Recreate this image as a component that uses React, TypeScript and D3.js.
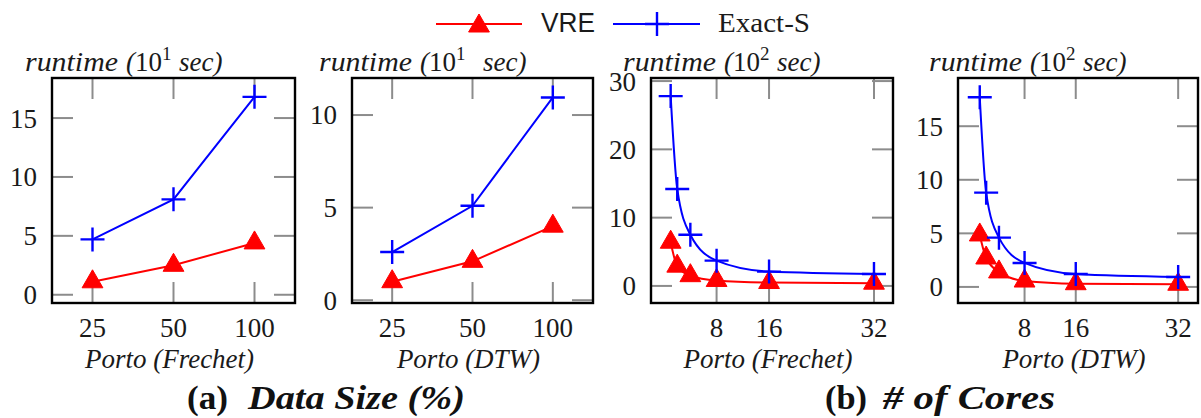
import React from "react";
import * as d3 from "d3";

// ---- data ----
const sizeCats = ["25", "50", "100"];
const frechetSizeVRE = [1.1, 2.5, 4.4];
const frechetSizeExact = [4.7, 8.1, 16.8];
const dtwSizeVRE = [1.0, 2.1, 4.0];
const dtwSizeExact = [2.6, 5.1, 10.95];

const cores = [1, 2, 4, 8, 16, 32];
const coreTicks = [8, 16, 32];
const frechetCoresVRE = [6.4, 2.9, 1.5, 0.8, 0.5, 0.4];
const frechetCoresExact = [27.8, 14.2, 7.5, 3.7, 2.1, 1.75];
const dtwCoresVRE = [4.85, 2.7, 1.4, 0.55, 0.3, 0.25];
const dtwCoresExact = [17.7, 8.8, 4.6, 2.24, 1.2, 0.93];

const seriesNames = ["VRE", "Exact-S"];
const RED = "#ff0000";
const BLUE = "#0000ff";
const SERIF = "'Liberation Serif', 'DejaVu Serif', serif";
const SANS = "'Liberation Sans', 'DejaVu Sans', sans-serif";

const TOP = 78;
const BOTTOM = 303;
const TICK = 21;

type Panel = {
  kind: "cat" | "lin";
  x0: number;
  x1: number;
  xDomain?: [number, number];
  yDomain: [number, number];
  yTicks: number[];
  vre: number[];
  exact: number[];
  exp: string;
  expGap: boolean;
  xlabel: string;
  ylabelX: number;
};

const panels: Panel[] = [
  { kind: "cat", x0: 52, x1: 295, yDomain: [-0.7, 18.4], yTicks: [0, 5, 10, 15], vre: frechetSizeVRE, exact: frechetSizeExact, exp: "1", expGap: false, xlabel: "Porto (Frechet)", ylabelX: 25 },
  { kind: "cat", x0: 352, x1: 593, yDomain: [-0.15, 12], yTicks: [0, 5, 10], vre: dtwSizeVRE, exact: dtwSizeExact, exp: "1", expGap: true, xlabel: "Porto (DTW)", ylabelX: 319 },
  { kind: "lin", x0: 651, x1: 893, xDomain: [-2.0, 34.9], yDomain: [-2.5, 30.45], yTicks: [0, 10, 20, 30], vre: frechetCoresVRE, exact: frechetCoresExact, exp: "2", expGap: false, xlabel: "Porto (Frechet)", ylabelX: 623 },
  { kind: "lin", x0: 958, x1: 1198, xDomain: [-2.4, 35.1], yDomain: [-1.5, 19.5], yTicks: [0, 5, 10, 15], vre: dtwCoresVRE, exact: dtwCoresExact, exp: "2", expGap: false, xlabel: "Porto (DTW)", ylabelX: 929 },
];

const triPath = (r: number) => {
  const h = r * Math.cos(Math.PI / 6);
  return `M0,${-r}L${h},${r / 2}L${-h},${r / 2}Z`;
};

function Tri({ x, y, r = 12 }: { x: number; y: number; r?: number }) {
  return <path d={triPath(r)} transform={`translate(${x},${y})`} fill={RED} stroke={RED} strokeWidth={1} />;
}
function Plus({ x, y, s = 12 }: { x: number; y: number; s?: number }) {
  return (
    <path d={`M${x - s},${y}H${x + s}M${x},${y - s}V${y + s}`} stroke={BLUE} strokeWidth={2.4} fill="none" />
  );
}

function PanelView({ p }: { p: Panel }) {
  const y = d3.scaleLinear().domain(p.yDomain).range([BOTTOM, TOP]);
  let xs: number[];
  let xTickPos: number[];
  let xTickLabels: string[];
  if (p.kind === "cat") {
    const x = d3.scalePoint<string>().domain(sizeCats).range([p.x0, p.x1]).padding(0.5);
    xs = sizeCats.map((c) => x(c) as number);
    xTickPos = xs;
    xTickLabels = sizeCats;
  } else {
    const x = d3.scaleLinear().domain(p.xDomain as [number, number]).range([p.x0, p.x1]);
    xs = cores.map((c) => x(c));
    xTickPos = coreTicks.map((c) => x(c));
    xTickLabels = coreTicks.map(String);
  }
  const curve = p.kind === "cat" ? d3.curveLinear : d3.curveMonotoneX;
  const line = d3.line<number>().x((_, i) => xs[i]).y((v) => y(v)).curve(curve);
  const clipId = `clip-${p.x0}`;
  const cx = (p.x0 + p.x1) / 2;
  const yl = p.ylabelX;
  return (
    <g>
      <clipPath id={clipId}>
        <rect x={p.x0} y={TOP} width={p.x1 - p.x0} height={BOTTOM - TOP} />
      </clipPath>
      <g clipPath={`url(#${clipId})`} stroke="#8c8c8c" strokeWidth={2}>
        {p.yTicks.map((t) => (
          <g key={`y${t}`}>
            <line x1={p.x0} x2={p.x0 + TICK} y1={y(t)} y2={y(t)} />
            <line x1={p.x1} x2={p.x1 - TICK} y1={y(t)} y2={y(t)} />
          </g>
        ))}
        {xTickPos.map((t, i) => (
          <g key={`x${i}`}>
            <line x1={t} x2={t} y1={TOP} y2={TOP + TICK} />
            <line x1={t} x2={t} y1={BOTTOM} y2={BOTTOM - TICK} />
          </g>
        ))}
      </g>
      <path d={line(p.vre) || ""} fill="none" stroke={RED} strokeWidth={2} />
      <path d={line(p.exact) || ""} fill="none" stroke={BLUE} strokeWidth={2} />
      {p.vre.map((v, i) => (
        <Tri key={`t${i}`} x={xs[i]} y={y(v)} />
      ))}
      {p.exact.map((v, i) => (
        <Plus key={`p${i}`} x={xs[i]} y={y(v)} />
      ))}
      <rect x={p.x0} y={TOP} width={p.x1 - p.x0} height={BOTTOM - TOP} fill="none" stroke="#000" strokeWidth={2.4} />
      {p.yTicks.map((t) => (
        <text key={`yl${t}`} x={p.x0 - 15} y={y(t)} dy="0.35em" textAnchor="end" fontFamily={SERIF} fontSize={27} fill="#1a1a1a">
          {t}
        </text>
      ))}
      {xTickPos.map((t, i) => (
        <text key={`xl${i}`} x={t} y={337} textAnchor="middle" fontFamily={SERIF} fontSize={27} fill="#1a1a1a">
          {xTickLabels[i]}
        </text>
      ))}
      <text x={cx - 4} y={368} textAnchor="middle" fontFamily={SERIF} fontStyle="italic" fontSize={27} fill="#1a1a1a">
        {p.xlabel}
      </text>
      {/* y label: runtime (10^k sec) */}
      <text x={yl} y={71} fontFamily={SERIF} fontStyle="italic" fontSize={27} textLength={93} lengthAdjust="spacingAndGlyphs" fill="#1a1a1a">
        runtime
      </text>
      <text x={yl + 101} y={71} fontFamily={SERIF} fontSize={27} fill="#1a1a1a">
        <tspan fontStyle="italic">(</tspan>
        <tspan>10</tspan>
        <tspan fontSize={19} dy={-11}>{p.exp}</tspan>
      </text>
      <text x={yl + (p.expGap ? 164 : 154)} y={71} fontFamily={SERIF} fontStyle="italic" fontSize={27} fill="#1a1a1a">
        sec)
      </text>
    </g>
  );
}

export default function App() {
  return (
    <svg width={1201} height={418} style={{ position: "absolute", left: 0, top: 0, background: "#fff" }}>
      <rect width={1201} height={418} fill="#fff" />
      {/* legend */}
      <g>
        <line x1={436} x2={522} y1={24} y2={24} stroke={RED} strokeWidth={2.2} />
        <Tri x={479} y={26} r={12} />
        <text x={541} y={32} fontFamily={SANS} fontSize={27} textLength={54} lengthAdjust="spacingAndGlyphs" fill="#1a1a1a">
          {seriesNames[0]}
        </text>
        <line x1={613} x2={700} y1={24} y2={24} stroke={BLUE} strokeWidth={2.2} />
        <Plus x={657} y={24} s={12} />
        <text x={718} y={32} fontFamily={SERIF} fontSize={27} textLength={92} lengthAdjust="spacingAndGlyphs" fill="#1a1a1a">
          {seriesNames[1]}
        </text>
      </g>
      {panels.map((p, i) => (
        <PanelView key={i} p={p} />
      ))}
      <text x={187} y={409} fontFamily={SERIF} fontWeight="bold" fontSize={33} textLength={41} lengthAdjust="spacingAndGlyphs" fill="#111">
        (a)
      </text>
      <text x={248} y={409} fontFamily={SERIF} fontWeight="bold" fontStyle="italic" fontSize={33} textLength={217} lengthAdjust="spacingAndGlyphs" fill="#111">
        Data Size (%)
      </text>
      <text x={825} y={409} fontFamily={SERIF} fontWeight="bold" fontSize={33} textLength={42} lengthAdjust="spacingAndGlyphs" fill="#111">
        (b)
      </text>
      <text x={883} y={409} fontFamily={SERIF} fontWeight="bold" fontStyle="italic" fontSize={33} textLength={172} lengthAdjust="spacingAndGlyphs" fill="#111">
        # of Cores
      </text>
    </svg>
  );
}
